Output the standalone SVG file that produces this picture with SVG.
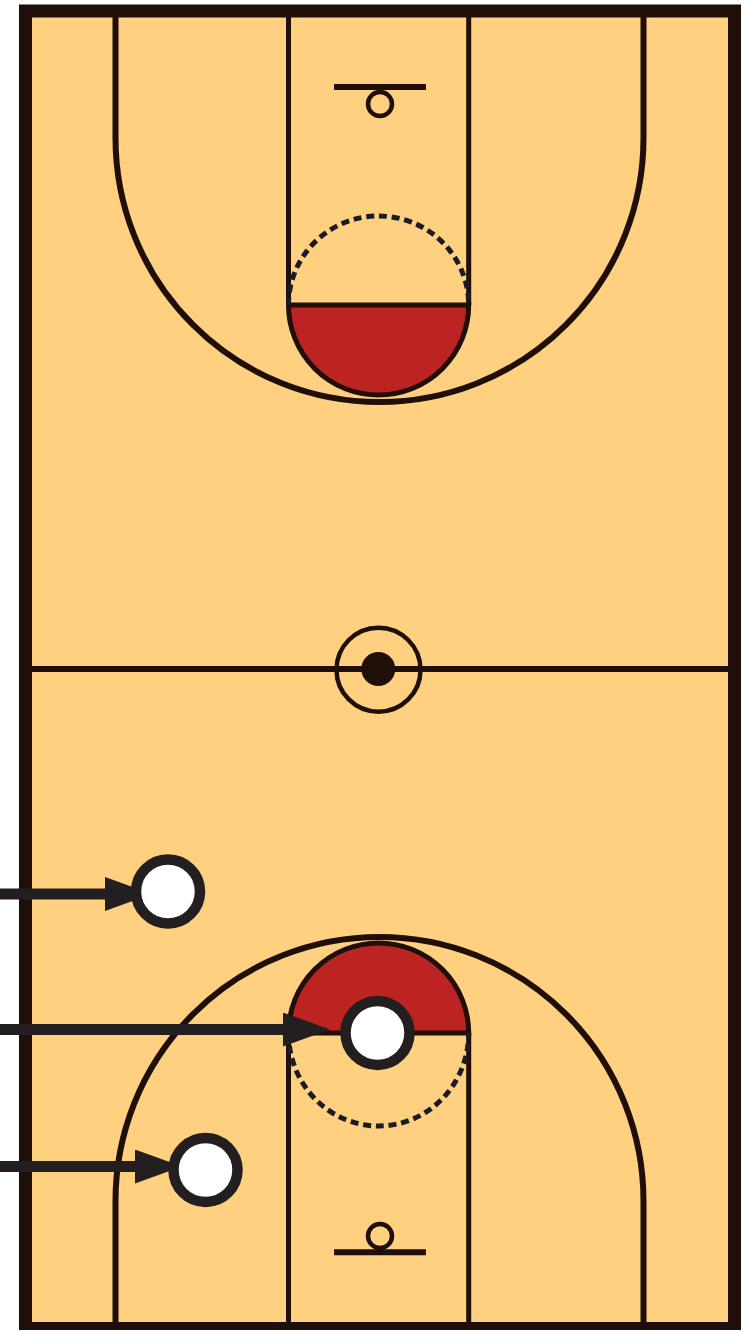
<svg xmlns="http://www.w3.org/2000/svg" width="745" height="1330" viewBox="0 0 745 1330">
<defs>
<marker id="head" markerUnits="userSpaceOnUse" markerWidth="48" markerHeight="34" viewBox="0 0 48 34" refX="1" refY="17" orient="auto"><path d="M0,0 L47,17 L0,34 Z" fill="#231f20"/></marker>
</defs>
<style>
.line{fill:none;stroke:#1f0f08;stroke-width:5}
.thin{fill:none;stroke:#1f0f08;stroke-width:4.500}
.wide{fill:none;stroke:#1f0f08;stroke-width:6}
.dash{fill:none;stroke:#1b1b25;stroke-width:5;stroke-dasharray:8 4.8}
.key{fill:#bc2424;stroke:#1f0f08;stroke-width:5}
.player{fill:#fff;stroke:#231f20;stroke-width:10.500}
.arrow{fill:none;stroke:#231f20;stroke-width:11;marker-end:url(#head)}
</style>
<g id="court">
<rect x="25.5" y="11" width="709" height="1317.500" fill="#fed07f" stroke="#1f0f08" stroke-width="13"/>
<path class="wide" d="M32,669H728"/>
<circle class="thin" cx="378.500" cy="669.700" r="42"/>
<circle cx="378.300" cy="669" r="17" fill="#1f0f08"/>
</g>
<g id="top-half">
<path class="line" d="M288.500,17V305M468.700,17V305"/>
<path class="wide" d="M115.500,17V138A264,264 0 0 0 643.500,138V17"/>
<path class="key" d="M288.500,305H468.700A90.100,90.100 0 0 1 288.500,305Z"/>
<path class="dash" d="M288.500,305A90.100,89 0 0 1 468.700,305"/>
<path class="wide" d="M334,87H426"/>
<circle class="thin" cx="380" cy="104" r="12"/>
</g>
<g id="bottom-half">
<path class="line" d="M288.500,1322V1033M468.700,1322V1033"/>
<path class="wide" d="M115.500,1322V1201A264,264 0 0 1 643.500,1201V1322"/>
<path class="key" d="M288.500,1033H468.700A90.100,90.100 0 0 0 288.500,1033Z"/>
<path class="dash" d="M288.500,1033A90.100,93 0 0 0 468.700,1033"/>
<path class="wide" d="M334,1252.300H426"/>
<circle class="thin" cx="380" cy="1236" r="12"/>
</g>
<g id="connectors">
<path class="arrow" d="M0,894H106"/>
<path class="arrow" d="M0,1029.500H284"/>
<path class="arrow" d="M0,1166.500H136"/>
</g>
<g id="player-1"><circle class="player" cx="168" cy="891.500" r="32"/></g>
<g id="player-2"><circle class="player" cx="377.500" cy="1033" r="32"/></g>
<g id="player-3"><circle class="player" cx="205.500" cy="1170" r="32"/></g>
</svg>
